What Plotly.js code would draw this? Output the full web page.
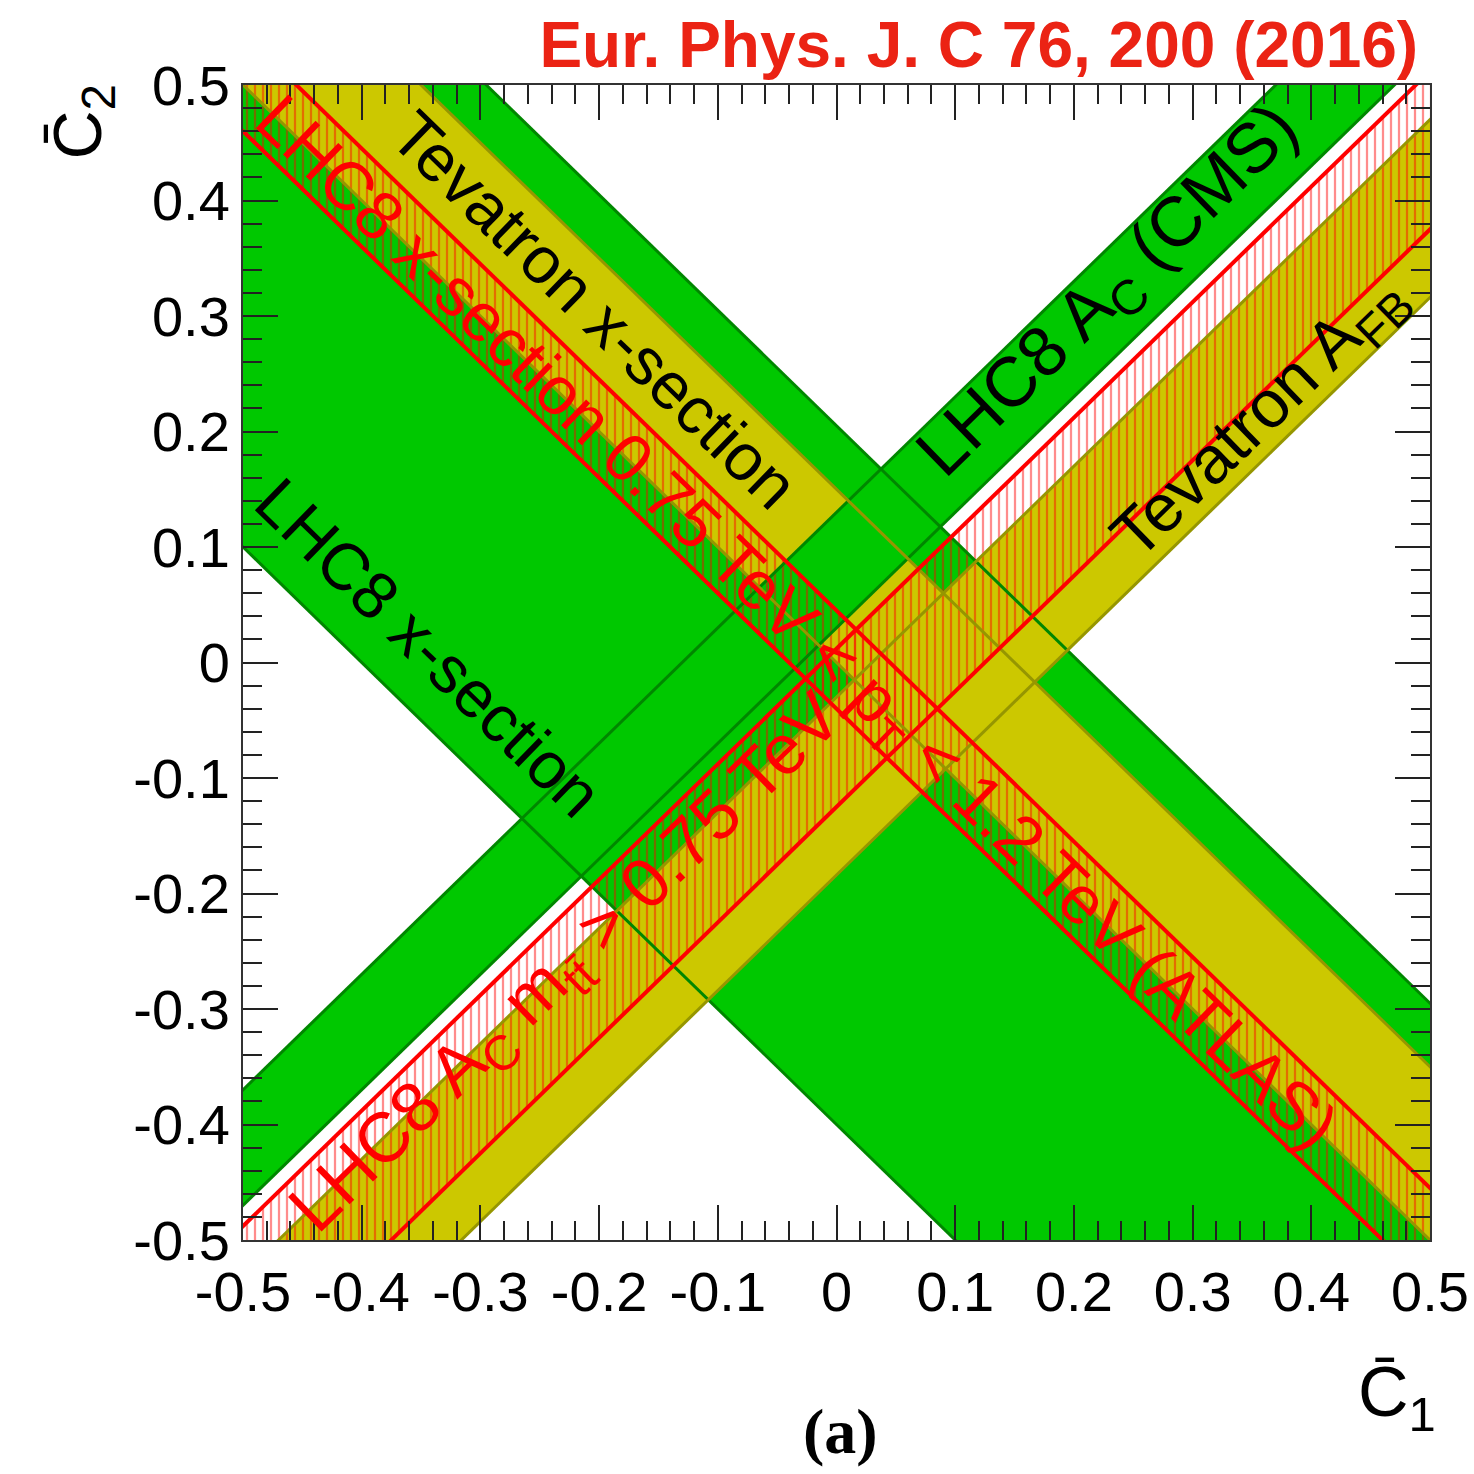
<!DOCTYPE html>
<html><head><meta charset="utf-8">
<script src="https://cdn.plot.ly/plotly-3.0.1.min.js"></script>
<style>html,body{margin:0;padding:0;background:#fff}</style>
</head><body>
<div id="chart" style="width:1474px;height:1474px"></div>
<script>
// Decreasing bands:  C2 = c - C1  -> [lower c, upper c]
const lhc8XsecBand = [-0.40, 0.205];
const tevatronXsecBand = [0.0, 0.15];
const atlasXsecBand = [-0.04, 0.045];
// Increasing bands:  C2 = C1 + d  -> [lower d, upper d]
const cmsAcBand = [0.03, 0.13];
const tevatronAfbBand = [-0.184, -0.03];
const lhc8AcMttBand = [-0.125, 0.012];
// Axis ticks
const tickValues = [-0.5,-0.4,-0.3,-0.2,-0.1,0,0.1,0.2,0.3,0.4,0.5];
const tickLabels = ['-0.5','-0.4','-0.3','-0.2','-0.1','0','0.1','0.2','0.3','0.4','0.5'];

const GREEN = 'rgb(0,200,0)', GREEN_EDGE = 'rgb(0,135,0)';
const YELLOW = 'rgb(204,200,0)', YELLOW_EDGE = 'rgb(150,150,0)';
const RED = 'rgb(255,0,0)';

function bandXY(slope, band) {
  const xs = [-1, 1, 1, -1, -1];
  const off = [band[0], band[0], band[1], band[1], band[0]];
  return {x: xs, y: xs.map((x, i) => off[i] + slope * x)};
}
function fillTrace(slope, band, color) {
  const p = bandXY(slope, band);
  return {x: p.x, y: p.y, type: 'scatter', mode: 'lines', fill: 'toself',
    fillcolor: color, line: {width: 0, color: color}, hoverinfo: 'skip'};
}
function hatchTrace(slope, band) {
  const p = bandXY(slope, band);
  return {x: p.x, y: p.y, type: 'scatter', mode: 'lines', fill: 'toself',
    fillcolor: 'rgba(0,0,0,0)', line: {width: 0, color: 'rgba(0,0,0,0)'},
    fillpattern: {shape: '|', size: 8, solidity: 0.28, fgcolor: 'rgba(255,0,0,0.45)',
      bgcolor: 'rgba(0,0,0,0)', fillmode: 'replace'}, hoverinfo: 'skip'};
}
function edgeTraces(slope, band, color, width) {
  return band.map(off => ({x: [-1, 1], y: [off - slope, off + slope], type: 'scatter',
    mode: 'lines', line: {color: color, width: width}, hoverinfo: 'skip'}));
}

const traces = [
  fillTrace(-1, lhc8XsecBand, GREEN),
  fillTrace(-1, tevatronXsecBand, YELLOW),
  fillTrace(1, cmsAcBand, GREEN),
  fillTrace(1, tevatronAfbBand, YELLOW),
  hatchTrace(-1, atlasXsecBand),
  hatchTrace(1, lhc8AcMttBand),
  ...edgeTraces(-1, lhc8XsecBand, GREEN_EDGE, 3),
  ...edgeTraces(1, cmsAcBand, GREEN_EDGE, 3),
  ...edgeTraces(-1, tevatronXsecBand, YELLOW_EDGE, 3),
  ...edgeTraces(1, tevatronAfbBand, YELLOW_EDGE, 3),
  ...edgeTraces(-1, atlasXsecBand, RED, 4),
  ...edgeTraces(1, lhc8AcMttBand, RED, 4),
];

const ANG = Math.atan(1155 / 1187) * 180 / Math.PI;
const LBL = 'Liberation Sans, Arial, sans-serif';
function bandLabel(text, x, slope, off, color, size) {
  return {text: text, x: x, y: off + slope * x, xref: 'x', yref: 'y', showarrow: false,
    textangle: slope < 0 ? ANG : -ANG, font: {family: LBL, size: size, color: color},
    xanchor: 'center', yanchor: 'middle'};
}

const axisCommon = {
  range: [-0.5, 0.5], autorange: false, showgrid: false, zeroline: false,
  showline: true, linecolor: '#333', linewidth: 2, mirror: 'allticks',
  ticks: 'inside', ticklen: 35, tickwidth: 2, tickcolor: '#222',
  tickmode: 'array', tickvals: tickValues, ticktext: tickLabels,
  tickfont: {family: LBL, size: 56, color: '#000'},
  minor: {dtick: 0.02, tick0: -0.5, ticks: 'inside', ticklen: 19, tickwidth: 2, tickcolor: '#222', showgrid: false}
};

const layout = {
  width: 1474, height: 1474,
  margin: {l: 243, r: 44, t: 85, b: 234, pad: 0},
  paper_bgcolor: '#fff', plot_bgcolor: '#fff', showlegend: false,
  title: {text: '<b>Eur. Phys. J. C 76, 200 (2016)</b>', font: {family: LBL, size: 64, color: 'rgb(235,35,20)'},
    xref: 'paper', x: 0.99, xanchor: 'right', yref: 'container', y: 1 - 45 / 1474, yanchor: 'middle'},
  xaxis: Object.assign({}, axisCommon, {ticklabelstandoff: 2}),
  yaxis: Object.assign({}, axisCommon, {ticklabelstandoff: 0}),
  annotations: [
    bandLabel('Tevatron x-section', -0.2035, -1, 0.102, '#000', 66),
    bandLabel('LHC8 x-section 0.75 TeV &lt; p<sub>T</sub> &lt; 1.2 TeV (ATLAS)', -0.035, -1, -0.003, RED, 68),
    bandLabel('LHC8 x-section', -0.344, -1, -0.331, '#000', 66),
    bandLabel('LHC8 A<sub>C</sub> (CMS)', 0.230, 1, 0.090, '#000', 70),
    bandLabel('Tevatron A<sub>FB</sub>', 0.357, 1, -0.145, '#000', 67),
    bandLabel('LHC8 A<sub>C</sub> m<sub>tt\u0304</sub> &gt; 0.75 TeV', -0.226, 1, -0.036, RED, 70),
    {text: 'C\u0304<sub>2</sub>', xref: 'paper', yref: 'paper', x: -0.136, y: 0.968, showarrow: false,
      textangle: -90, font: {family: LBL, size: 68, color: '#000'}, xanchor: 'center', yanchor: 'middle'},
    {text: 'C\u0304<sub>1</sub>', xref: 'paper', yref: 'paper', x: 0.972, y: -0.136, showarrow: false,
      font: {family: LBL, size: 70, color: '#000'}, xanchor: 'center', yanchor: 'middle'},
    {text: '<b>(a)</b>', xref: 'paper', yref: 'paper', x: 0.503, y: -0.166, showarrow: false,
      font: {family: 'Liberation Serif, Times New Roman, serif', size: 64, color: '#000'}, xanchor: 'center', yanchor: 'middle'}
  ]
};

Plotly.newPlot('chart', traces, layout, {displayModeBar: false, staticPlot: true});
</script>
</body></html>
